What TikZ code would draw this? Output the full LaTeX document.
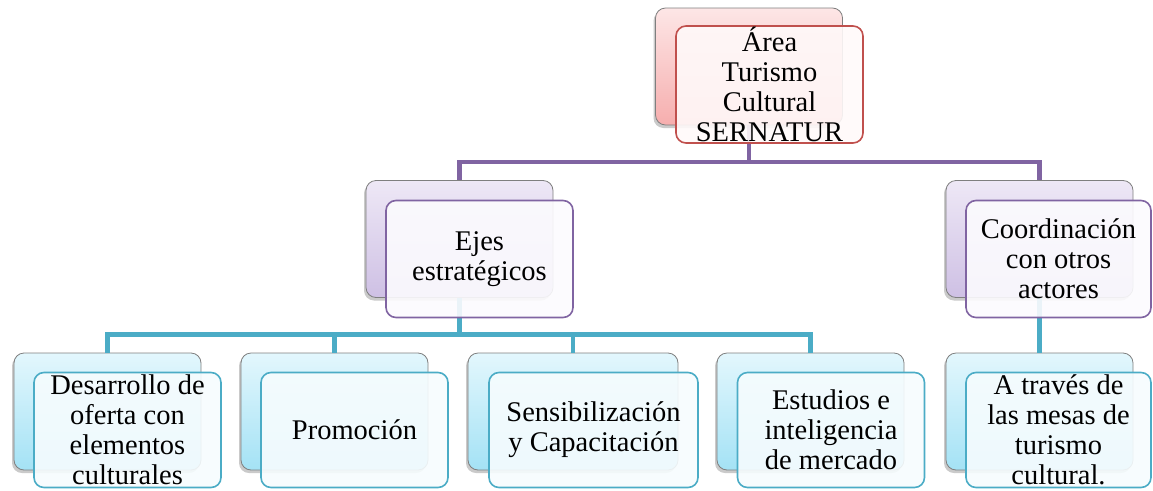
\documentclass[tikz,border=0pt]{standalone}
\usepackage{fontspec}
\setmainfont{Liberation Serif}
\usetikzlibrary{shadows}
\definecolor{cRed}{HTML}{C0504D}
\definecolor{cPur}{HTML}{8064A2}
\definecolor{cTeal}{HTML}{4BACC6}
\definecolor{pinkTop}{HTML}{FDE6E6}
\definecolor{pinkBot}{HTML}{F6AEAE}
\definecolor{purTop}{HTML}{EEE8F6}
\definecolor{purBot}{HTML}{CEC0E4}
\definecolor{tealTop}{HTML}{E3F7FD}
\definecolor{tealBot}{HTML}{A4E2F5}
\definecolor{pinkFront}{HTML}{FFF9F9}
\definecolor{purFront}{HTML}{FCFBFE}
\definecolor{tealFront}{HTML}{F6FCFE}
\definecolor{backEdge}{HTML}{7F7F7F}
\tikzset{
  backbox/.style={rectangle, rounded corners=10pt, draw=backEdge, line width=0.8pt,
    minimum width=187pt, minimum height=117pt, inner sep=0pt,
    drop shadow={shadow xshift=-2pt, shadow yshift=-3pt, opacity=0.35, fill=black!60}},
  backPink/.style={backbox, top color=pinkTop, bottom color=pinkBot},
  backPur/.style={backbox, top color=purTop, bottom color=purBot},
  backTeal/.style={backbox, top color=tealTop, bottom color=tealBot},
  frontbox/.style={rectangle, rounded corners=10pt, line width=1.6pt,
    minimum width=187pt, minimum height=117pt, inner sep=0pt,
    fill opacity=0.9, text opacity=1, align=center,
    font=\fontsize{28.5}{30}\selectfont},
  frontPink/.style={frontbox, draw=cRed, fill=pinkFront},
  frontPur/.style={frontbox, draw=cPur, fill=purFront},
  frontTeal/.style={frontbox, draw=cTeal, fill=tealFront, minimum height=115pt},
  purLine/.style={draw=cPur, line width=4.3pt, line join=miter},
  tealLine/.style={draw=cTeal, line width=4.5pt, line join=miter}
}
\begin{document}
\begin{tikzpicture}[x=1pt, y=-1pt]
\useasboundingbox (0,0) rectangle (1153,490);
% back boxes
\node[backPink] (b0) at (749,66.5) {};
\node[backPur] (b1) at (459.5,239) {};
\node[backPur] (b2) at (1039.5,239) {};
\node[backTeal] (c1) at (107.5,411.5) {};
\node[backTeal] (c2) at (334.5,411.5) {};
\node[backTeal, minimum width=210pt] (c3) at (573,411.5) {};
\node[backTeal] (c4) at (810.5,411.5) {};
\node[backTeal] (d1) at (1039.5,411.5) {};
% connectors
\coordinate (jP) at (749,162);
\coordinate (jT) at (459.5,334.5);
\draw[purLine] (b0.south) -- (jP);
\draw[purLine] (b1.north) |- (jP) -| (b2.north);
\draw[tealLine] (b1.south) -- (jT);
\draw[tealLine] (c1.north) |- (jT) -| (c4.north);
\draw[tealLine] (c2.north) -- (c2.north |- jT);
\draw[tealLine] (c3.north) -- (c3.north |- jT);
\draw[tealLine] (b2.south) -- (d1.north);
% front boxes
\node[frontPink] (f0) at (769.5,84.5) {Área\\Turismo\\Cultural\\SERNATUR};
\node[frontPur] (f1) at (479.5,259) {Ejes\\estratégicos};
\node[frontPur, minimum width=185pt] (f2) at (1058.5,259) {Coordinación\\con otros\\actores};
\node[frontTeal] (g1) at (127.5,430) {Desarrollo de\\oferta con\\elementos\\culturales};
\node[frontTeal] (g2) at (354.5,430) {Promoción};
\node[frontTeal, minimum width=209pt] (g3) at (593.5,430) {Sensibilización\\y Capacitación};
\node[frontTeal] (g4) at (831,430) {Estudios e\\inteligencia\\de mercado};
\node[frontTeal, minimum width=185pt] (h1) at (1058.5,430) {A través de\\las mesas de\\turismo\\cultural.};
\end{tikzpicture}
\end{document}
